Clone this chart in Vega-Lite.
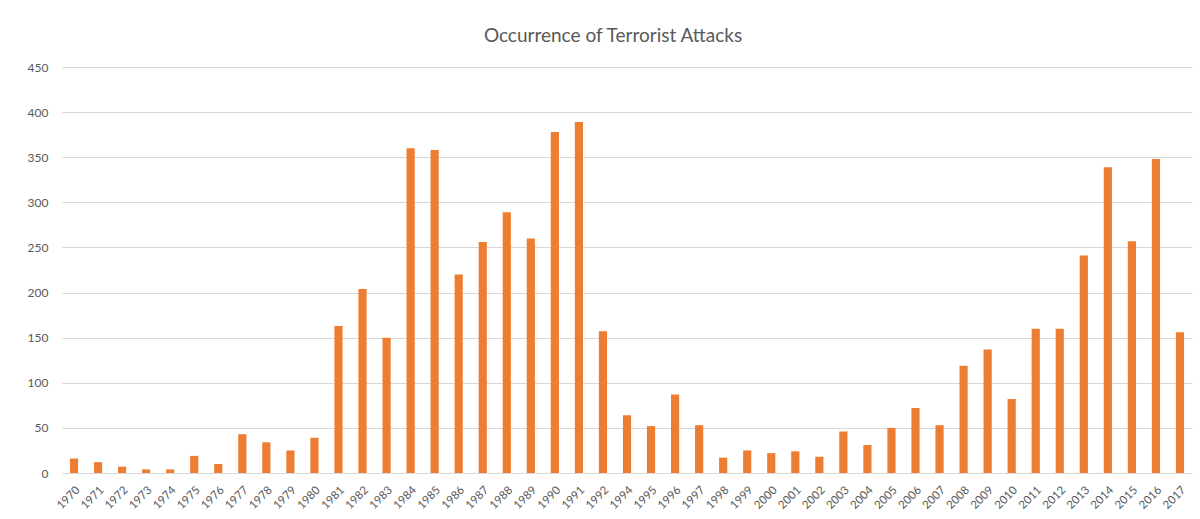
{
  "$schema": "https://vega.github.io/schema/vega-lite/v6.json",
  "width": 1130,
  "height": 406,
  "autosize": {"type": "none"},
  "padding": {"left": 62, "top": 67, "right": 8, "bottom": 46},
  "background": "white",
  "title": {
    "text": "Occurrence of Terrorist Attacks",
    "font": "Lato",
    "fontSize": 19,
    "fontWeight": "normal",
    "color": "#595959",
    "anchor": "middle",
    "dx": -14,
    "offset": 15
  },
  "data": {
    "values": [
      {"year": "1970", "attacks": 16},
      {"year": "1971", "attacks": 12},
      {"year": "1972", "attacks": 7},
      {"year": "1973", "attacks": 4},
      {"year": "1974", "attacks": 4},
      {"year": "1975", "attacks": 19},
      {"year": "1976", "attacks": 10},
      {"year": "1977", "attacks": 43},
      {"year": "1978", "attacks": 34},
      {"year": "1979", "attacks": 25},
      {"year": "1980", "attacks": 39},
      {"year": "1981", "attacks": 163},
      {"year": "1982", "attacks": 204},
      {"year": "1983", "attacks": 150},
      {"year": "1984", "attacks": 360},
      {"year": "1985", "attacks": 358},
      {"year": "1986", "attacks": 220},
      {"year": "1987", "attacks": 256},
      {"year": "1988", "attacks": 289},
      {"year": "1989", "attacks": 260},
      {"year": "1990", "attacks": 378},
      {"year": "1991", "attacks": 389},
      {"year": "1992", "attacks": 157},
      {"year": "1994", "attacks": 64},
      {"year": "1995", "attacks": 52},
      {"year": "1996", "attacks": 87},
      {"year": "1997", "attacks": 53},
      {"year": "1998", "attacks": 17},
      {"year": "1999", "attacks": 25},
      {"year": "2000", "attacks": 22},
      {"year": "2001", "attacks": 24},
      {"year": "2002", "attacks": 18},
      {"year": "2003", "attacks": 46},
      {"year": "2004", "attacks": 31},
      {"year": "2005", "attacks": 50},
      {"year": "2006", "attacks": 72},
      {"year": "2007", "attacks": 53},
      {"year": "2008", "attacks": 119},
      {"year": "2009", "attacks": 137},
      {"year": "2010", "attacks": 82},
      {"year": "2011", "attacks": 160},
      {"year": "2012", "attacks": 160},
      {"year": "2013", "attacks": 241},
      {"year": "2014", "attacks": 339},
      {"year": "2015", "attacks": 257},
      {"year": "2016", "attacks": 348},
      {"year": "2017", "attacks": 156}
    ]
  },
  "mark": {"type": "bar", "color": "#ED7D31"},
  "encoding": {
    "x": {
      "field": "year",
      "type": "ordinal",
      "title": null,
      "scale": {"paddingInner": 0.66, "paddingOuter": 0.33},
      "axis": {
        "labelAngle": -45,
        "labelFont": "Lato",
        "labelFontSize": 11.5,
        "labelColor": "#595959",
        "labelPadding": 11,
        "ticks": false,
        "domainColor": "#d9d9d9",
        "domainWidth": 1,
        "grid": false
      }
    },
    "y": {
      "field": "attacks",
      "type": "quantitative",
      "title": null,
      "scale": {"domain": [0, 450], "nice": false},
      "axis": {
        "values": [0, 50, 100, 150, 200, 250, 300, 350, 400, 450],
        "labelFont": "Lato",
        "labelFontSize": 12,
        "labelColor": "#595959",
        "labelPadding": 14,
        "ticks": false,
        "tickSize": 0,
        "domain": false,
        "gridColor": "#d9d9d9",
        "gridWidth": 1
      }
    }
  },
  "config": {"view": {"stroke": null}}
}
